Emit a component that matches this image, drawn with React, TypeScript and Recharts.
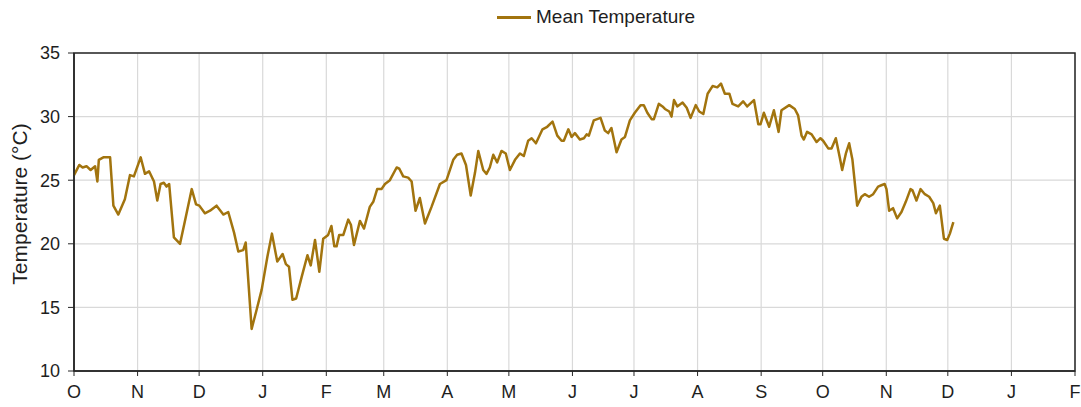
import {
  LineChart,
  Line,
  XAxis,
  YAxis,
  CartesianGrid,
  ReferenceArea,
} from "recharts";

document.body.style.margin = "0";

// day index counted from 1 Oct, vertices
const dayIndex = [
  0, 2.6, 4.2, 6.1, 8.1, 10.3, 11.4, 12.1, 14.3, 17.6, 19.2, 21.6, 24.8, 27.3,
  29.2, 32.5, 34.6, 36.6, 39, 40.6, 42.2, 43.8, 45.1, 46.4, 48.7, 51.7, 54.5,
  57.4, 59.5, 61.1, 63.8, 66.3, 69.5, 72.8, 75.2, 78, 80.1, 82.5, 83.7, 86.6,
  89, 91.5, 94.3, 96.5, 99.1, 101.7, 103.3, 104.8, 106.5, 108.3, 111, 113.8,
  115.4, 117.5, 119.6, 121.5, 123.9, 125.5, 126.9, 128, 129.3, 131.3, 133.7,
  135, 136.5, 139.4, 141.4, 144.2, 145.9, 147.8, 149.9, 151.6, 154, 157.3,
  158.6, 160.5, 162.9, 164.6, 166.5, 168.6, 171.1, 174.3, 178.4, 181.6, 184.9,
  186.8, 188.9, 191.1, 193.4, 195.5, 197.1, 199.5, 201.1, 202.7, 204.4, 206.3,
  208.4, 210.5, 212.5, 215, 217.4, 219.3, 221.4, 223.1, 225.2, 228.4, 230.7,
  233.3, 235.6, 237.7, 238.8, 241, 242.6, 244.2, 246.6, 248.6, 249.9, 251,
  253.4, 256.7, 258.8, 260.4, 262, 264.5, 266.9, 268.6, 271, 273.4, 276.2,
  277.8, 279.5, 281.6, 282.7, 285.1, 286.9, 288.1, 290.2, 291.3, 292.5, 294.1,
  296.7, 298.7, 300.6, 303.1, 304.8, 306.8, 308.9, 311.3, 313.6, 315.4, 317.3,
  319.5, 321, 323.8, 326.2, 328.2, 331.5, 333.6, 334.7, 336.3, 338.9, 341.2,
  343.5, 344.9, 348.7, 351.4, 353, 354.7, 355.8, 357.4, 359.6, 362, 363.9,
  365.2, 367.7, 369.3, 371.4, 373.3, 374.5, 376.3, 377.9, 379.5, 381.8, 383.9,
  385.5, 387.6, 389.6, 392, 393.6, 395.2, 396.1, 397.4, 399.3, 401.3, 403.4,
  405.5, 407.8, 408.8, 410.7, 412.7, 414.8, 416.9, 418.9, 420.2, 422.1, 424.1,
  425.7, 427, 428.7,
];

const meanTemp = [
  25.4, 26.2, 26.0, 26.1, 25.8, 26.1, 24.9, 26.6, 26.8, 26.8, 23.0, 22.3, 23.5,
  25.4, 25.3, 26.8, 25.5, 25.7, 24.9, 23.4, 24.7, 24.8, 24.5, 24.7, 20.5, 20.0,
  22.1, 24.3, 23.1, 23.0, 22.4, 22.6, 23.0, 22.3, 22.5, 20.9, 19.4, 19.5, 20.1,
  13.3, 14.8, 16.4, 19.0, 20.8, 18.6, 19.2, 18.4, 18.2, 15.6, 15.7, 17.4, 19.1,
  18.3, 20.3, 17.8, 20.4, 20.7, 21.4, 19.8, 19.8, 20.7, 20.7, 21.9, 21.5, 19.9,
  21.8, 21.2, 22.9, 23.3, 24.3, 24.3, 24.7, 25.0, 26.0, 25.9, 25.3, 25.2, 24.9,
  22.6, 23.6, 21.6, 22.9, 24.7, 25.0, 26.6, 27.0, 27.1, 26.2, 23.8, 25.6, 27.3,
  25.8, 25.5, 26.0, 27.0, 26.4, 27.3, 27.1, 25.8, 26.6, 27.1, 26.9, 28.1, 28.3,
  27.9, 29.0, 29.2, 29.6, 28.5, 28.1, 28.1, 29.0, 28.4, 28.7, 28.2, 28.3, 28.6,
  28.5, 29.7, 29.9, 28.9, 28.7, 29.1, 27.2, 28.2, 28.4, 29.7, 30.3, 30.9, 30.9,
  30.3, 29.8, 29.8, 31.0, 30.8, 30.6, 30.4, 30.0, 31.3, 30.8, 31.1, 30.7, 29.9,
  30.9, 30.4, 30.2, 31.8, 32.4, 32.3, 32.6, 31.8, 31.8, 31.0, 30.8, 31.2, 30.8,
  31.3, 29.4, 29.4, 30.3, 29.2, 30.5, 28.8, 30.5, 30.9, 30.6, 30.1, 28.5, 28.2,
  28.8, 28.6, 28.0, 28.3, 28.1, 27.5, 27.5, 28.3, 26.8, 25.8, 27.1, 27.9, 26.6,
  23.0, 23.7, 23.9, 23.7, 23.9, 24.5, 24.6, 24.7, 24.3, 22.6, 22.8, 22.0, 22.5,
  23.3, 24.3, 24.2, 23.4, 24.3, 23.9, 23.7, 23.2, 22.4, 23.0, 20.4, 20.3, 20.8,
  21.7,
];

const monthStarts = [
  0, 31, 61, 92, 123, 151, 182, 212, 243, 273, 304, 335, 365, 396, 426, 457, 488,
];
const monthLabels = [
  "O", "N", "D", "J", "F", "M", "A", "M", "J", "J", "A", "S", "O", "N", "D", "J", "F",
];
const tempTicks = [10, 15, 20, 25, 30, 35];

const data = dayIndex.map((d, i) => ({ day: d, temp: meanTemp[i] }));

const FONT = "'Liberation Sans', Arial, sans-serif";
const LINE_COLOR = "#a2740e";
const TEXT_COLOR = "#1e1e1e";

function YLabel() {
  return (
    <text
      x={19}
      y={204}
      transform="rotate(-90 19 204)"
      textAnchor="middle"
      dominantBaseline="central"
      fontSize={21}
      fontFamily={FONT}
      fill={TEXT_COLOR}
    >
      Temperature (°C)
    </text>
  );
}

export default function App() {
  return (
    <div style={{ position: "relative", width: 1081, height: 407, background: "#fff" }}>
      <div
        style={{
          position: "absolute",
          left: 497,
          top: 6,
          display: "flex",
          alignItems: "center",
          gap: 5,
          fontFamily: FONT,
          fontSize: 19,
          color: TEXT_COLOR,
          zIndex: 1,
        }}
      >
        <span style={{ display: "inline-block", width: 34, height: 3, background: LINE_COLOR }} />
        Mean Temperature
      </div>
      <LineChart
        width={1081}
        height={407}
        data={data}
        margin={{ top: 53, right: 6, bottom: 6, left: 0 }}
      >
        <CartesianGrid stroke="#d9d9d9" strokeWidth={1.2} />
        <XAxis
          dataKey="day"
          type="number"
          domain={[0, 488]}
          ticks={monthStarts}
          interval={0}
          tickFormatter={(v: number) => monthLabels[monthStarts.indexOf(v)] ?? ""}
          tick={{ fill: TEXT_COLOR, fontSize: 18, fontFamily: FONT }}
          tickSize={5}
          tickMargin={9}
          axisLine={{ stroke: "#262626", strokeWidth: 1.5 }}
          tickLine={{ stroke: "#262626" }}
          height={30}
        />
        <YAxis
          type="number"
          domain={[10, 35]}
          ticks={tempTicks}
          interval={0}
          width={74}
          tick={{ fill: TEXT_COLOR, fontSize: 18, fontFamily: FONT }}
          tickSize={6}
          tickMargin={8}
          axisLine={{ stroke: "#262626", strokeWidth: 1.5 }}
          tickLine={{ stroke: "#262626" }}
          label={{ value: "Temperature (°C)", content: YLabel }}
        />
        <ReferenceArea
          x1={0}
          x2={488}
          y1={10}
          y2={35}
          fill="none"
          stroke="#262626"
          strokeWidth={1.5}
          fillOpacity={0}
        />
        <Line
          type="linear"
          dataKey="temp"
          stroke={LINE_COLOR}
          strokeWidth={2.5}
          strokeLinejoin="round"
          dot={false}
          activeDot={false}
          isAnimationActive={false}
        />
      </LineChart>
    </div>
  );
}
